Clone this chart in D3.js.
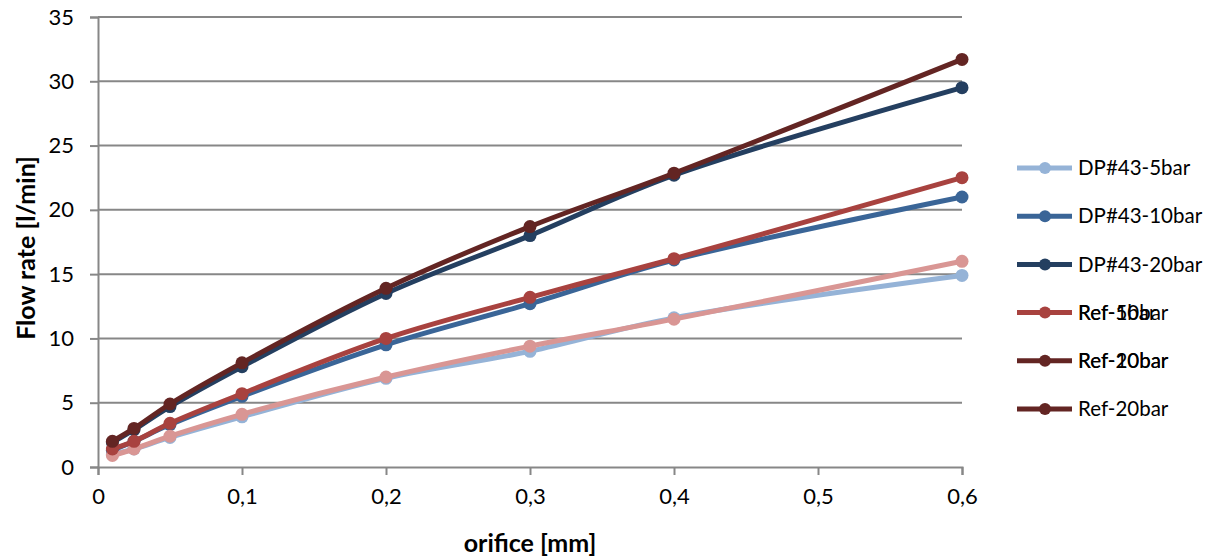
<!DOCTYPE html>
<html>
<head>
<meta charset="utf-8">
<script src="https://cdn.jsdelivr.net/npm/d3@7"></script>
<style>
  html, body { margin: 0; padding: 0; background: #fff; }
  svg { display: block; font-family: Lato, "Open Sans", sans-serif; }
</style>
</head>
<body>
<svg id="chart" width="1219" height="557"></svg>
<script>
// Orifice diameters [mm]
const orifice = [0.01, 0.025, 0.05, 0.1, 0.2, 0.3, 0.4, 0.6];

// Flow rate [l/min] per series
const dp43_5bar  = [1.0, 1.4, 2.3, 3.9, 6.9, 9.0, 11.6, 14.9];
const dp43_10bar = [1.3, 2.0, 3.3, 5.5, 9.5, 12.7, 16.1, 21.0];
const dp43_20bar = [1.9, 2.9, 4.7, 7.8, 13.5, 18.0, 22.7, 29.5];
const ref_5bar   = [0.9, 1.4, 2.4, 4.1, 7.0, 9.4, 11.5, 16.0];
const ref_10bar  = [1.4, 2.0, 3.4, 5.7, 10.0, 13.2, 16.2, 22.5];
const ref_20bar  = [2.0, 3.0, 4.9, 8.1, 13.9, 18.7, 22.85, 31.7];

const seriesNames  = ["DP#43-5bar", "DP#43-10bar", "DP#43-20bar", "Ref-5bar", "Ref-10bar", "Ref-20bar"];
const seriesValues = [dp43_5bar, dp43_10bar, dp43_20bar, ref_5bar, ref_10bar, ref_20bar];
const seriesColors = ["#95b3d7", "#3a6597", "#243f60", "#d99694", "#a8423f", "#632523"];

// Legend rows: labels drawn at each row and the series whose line style is shown
const legendLabels = [["DP#43-5bar"], ["DP#43-10bar"], ["DP#43-20bar"], ["Ref-5bar", "Ref-10bar"], ["Ref-10bar", "Ref-20bar"], ["Ref-20bar"]];
const legendSeries = ["DP#43-5bar", "DP#43-10bar", "DP#43-20bar", "Ref-10bar", "Ref-20bar", "Ref-20bar"];

const xTicks = [0, 0.1, 0.2, 0.3, 0.4, 0.5, 0.6];
const yTicks = [0, 5, 10, 15, 20, 25, 30, 35];

const fmt = d => String(d).replace(".", ",");

const svg = d3.select("#chart");
const m = { left: 98, right: 962, top: 17, bottom: 467 };

const x = d3.scaleLinear().domain([0, 0.6]).range([m.left, m.right]);
const y = d3.scaleLinear().domain([0, 35]).range([m.bottom, m.top]);

const gridColor = "#878787";

// Horizontal gridlines
svg.append("g")
  .selectAll("line")
  .data(yTicks.filter(d => d > 0))
  .join("line")
  .attr("x1", m.left).attr("x2", m.right)
  .attr("y1", d => y(d)).attr("y2", d => y(d))
  .attr("stroke", gridColor).attr("stroke-width", 2);

// Y axis
const yAxis = svg.append("g")
  .attr("transform", `translate(${m.left},0)`)
  .call(d3.axisLeft(y).tickValues(yTicks).tickSize(8).tickPadding(16).tickFormat(fmt));
yAxis.select(".domain").attr("stroke", gridColor).attr("stroke-width", 2);
yAxis.selectAll(".tick line").attr("stroke", gridColor).attr("stroke-width", 2);
yAxis.selectAll(".tick text")
  .attr("font-size", 22).attr("fill", "#000")
  .attr("font-family", "Lato, sans-serif");

// X axis
const xAxis = svg.append("g")
  .attr("transform", `translate(0,${m.bottom})`)
  .call(d3.axisBottom(x).tickValues(xTicks).tickSize(8).tickPadding(13).tickFormat(fmt));
xAxis.select(".domain").attr("stroke", gridColor).attr("stroke-width", 2);
xAxis.selectAll(".tick line").attr("stroke", gridColor).attr("stroke-width", 2);
xAxis.selectAll(".tick text")
  .attr("font-size", 22).attr("fill", "#000")
  .attr("font-family", "Lato, sans-serif");

// Axis titles
svg.append("text")
  .attr("transform", `translate(35,${(m.top + m.bottom) / 2 + 6}) rotate(-90)`)
  .attr("text-anchor", "middle")
  .attr("font-size", 25).attr("font-weight", "bold")
  .text("Flow rate [l/min]");

svg.append("text")
  .attr("x", (m.left + m.right) / 2)
  .attr("y", 552)
  .attr("text-anchor", "middle")
  .attr("font-size", 25).attr("font-weight", "bold")
  .text("orifice [mm]");

// Smoothed series lines with circular markers
const line = d3.line()
  .x(d => x(d[0])).y(d => y(d[1]))
  .curve(d3.curveCatmullRom.alpha(0.5));

seriesNames.forEach((name, i) => {
  const pts = orifice.map((o, j) => [o, seriesValues[i][j]]);
  const g = svg.append("g").attr("class", "series");
  g.append("path")
    .attr("d", line(pts))
    .attr("fill", "none")
    .attr("stroke", seriesColors[i])
    .attr("stroke-width", 5)
    .attr("stroke-linejoin", "round");
  g.selectAll("circle")
    .data(pts)
    .join("circle")
    .attr("cx", d => x(d[0])).attr("cy", d => y(d[1]))
    .attr("r", 6.5)
    .attr("fill", seriesColors[i]);
});

// Legend
const legend = svg.append("g");
const rowY = i => 168 + i * 48.2;
legendLabels.forEach((labels, i) => {
  const color = seriesColors[seriesNames.indexOf(legendSeries[i])];
  const row = legend.append("g").attr("transform", `translate(0,${rowY(i)})`);
  row.append("line")
    .attr("x1", 1017).attr("x2", 1072)
    .attr("y1", 0).attr("y2", 0)
    .attr("stroke", color).attr("stroke-width", 5);
  row.append("circle").attr("cx", 1045).attr("cy", 0).attr("r", 6).attr("fill", color);
  labels.forEach(t => {
    row.append("text")
      .attr("x", 1078).attr("y", 0).attr("dy", "0.35em")
      .attr("font-size", 20.5)
      .attr("fill", "#000")
      .text(t);
  });
});
</script>
</body>
</html>
